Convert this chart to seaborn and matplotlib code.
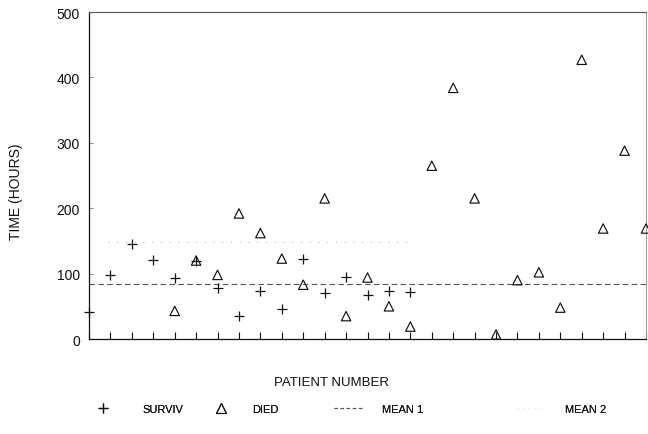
import numpy as np
import pandas as pd
import matplotlib
matplotlib.use("Agg")
import matplotlib.pyplot as plt
import seaborn as sns
from matplotlib.lines import Line2D

# values
SURV_PATIENT = [0, 1, 2, 3, 4, 5, 6, 7, 8, 9, 10, 11, 12, 13, 14, 15]
SURV_TIME = [41, 98, 146, 121, 94, 120, 78, 35, 74, 46, 122, 70, 95, 67, 74, 72]
DIED_PATIENT = [4, 5, 6, 7, 8, 9, 10, 11, 12, 13, 14, 15, 16, 17, 18, 19,
                20, 21, 22, 23, 24, 25, 26]
DIED_TIME = [43, 120, 98, 192, 162, 123, 83, 215, 35, 94, 50, 19, 265, 384,
             215, 7, 90, 102, 48, 427, 169, 288, 169]
Y_TICKS = [0, 100, 200, 300, 400, 500]
LEGEND_LABELS = ["SURVIV", "DIED", "MEAN 1", "MEAN 2"]

INK = "#111111"


def style_axes(ax):
    ax.set_xlim(0, 26)
    ax.set_ylim(0, 500)
    ax.set_xticks(range(0, 27))
    ax.set_xticklabels([])
    ax.set_yticks(Y_TICKS)
    ax.tick_params(axis="x", bottom=True, direction="in", length=5, width=0.8,
                   color=INK)
    ax.tick_params(axis="y", left=True, direction="in", length=3, width=0.6,
                   color="#777777", pad=6.5, labelsize=10, labelcolor=INK)
    for side in ["left", "bottom"]:
        ax.spines[side].set_color(INK)
        ax.spines[side].set_linewidth(0.9)
    ax.spines["top"].set_color("#555555")
    ax.spines["top"].set_linewidth(0.8)
    ax.spines["right"].set_color("#999999")
    ax.spines["right"].set_linewidth(0.7)
    ax.set_xlabel("PATIENT NUMBER", fontsize=9.5, color=INK)
    ax.set_ylabel("TIME (HOURS)", fontsize=10, color=INK)
    ax.xaxis.set_label_coords(0.436, -0.113)
    ax.yaxis.set_label_coords(-0.1185, 0.453)


def add_legend(fig):
    handles = [
        Line2D([], [], ls="none", marker="+", ms=7.5, mew=0.9, color=INK),
        Line2D([], [], ls="none", marker="^", ms=6.5, mew=0.8, mfc="none", mec=INK),
        Line2D([], [], ls=(0, (3, 2.5)), lw=0.8, color="#555555"),
        Line2D([], [], ls=(0, (1, 6)), lw=0.6, color="#dddddd"),
    ]
    # (handle start x px, handlelength, handletextpad) per entry
    spots = [(92, 2.0, 2.5), (210, 2.0, 1.8), (334, 2.5, 1.8), (517, 2.5, 1.8)]
    for h, lab, (x0, hl, pad) in zip(handles, LEGEND_LABELS, spots):
        leg = fig.legend([h], [lab], loc="center left",
                         bbox_to_anchor=(x0 / 648, 1 - 410 / 435),
                         frameon=False, fontsize=8, handlelength=hl,
                         handletextpad=pad, borderpad=0, borderaxespad=0,
                         labelcolor=INK)
        fig.add_artist(leg)


def main():
    sns.set_style("white")
    plt.rcParams["font.family"] = ["Liberation Sans", "DejaVu Sans"]

    surv = pd.DataFrame({"patient": SURV_PATIENT, "time": SURV_TIME})
    died = pd.DataFrame({"patient": DIED_PATIENT, "time": DIED_TIME})

    fig = plt.figure(figsize=(6.48, 4.35), dpi=100)
    ax = fig.add_axes([89 / 648, 1 - 340 / 435, 557 / 648, 327 / 435])

    # mean lines
    ax.axhline(np.mean(SURV_TIME), ls=(0, (5, 3)), lw=0.8, color="#555555", zorder=1)
    ax.hlines(np.mean(DIED_TIME), min(SURV_PATIENT) + 0.9, max(SURV_PATIENT),
              ls=(0, (1, 8)), lw=0.7, color="#aaaaaa", zorder=1)

    sns.scatterplot(data=surv, x="patient", y="time", marker="+", s=56,
                    color=INK, linewidth=0.9, ax=ax, clip_on=False, zorder=3)
    sns.scatterplot(data=died, x="patient", y="time", marker="^", s=46,
                    color=INK, facecolor="none", edgecolor=INK, linewidth=0.85,
                    ax=ax, clip_on=False, zorder=3)

    style_axes(ax)
    add_legend(fig)
    fig.savefig("out.png", dpi=100)


if __name__ == "__main__":
    main()
